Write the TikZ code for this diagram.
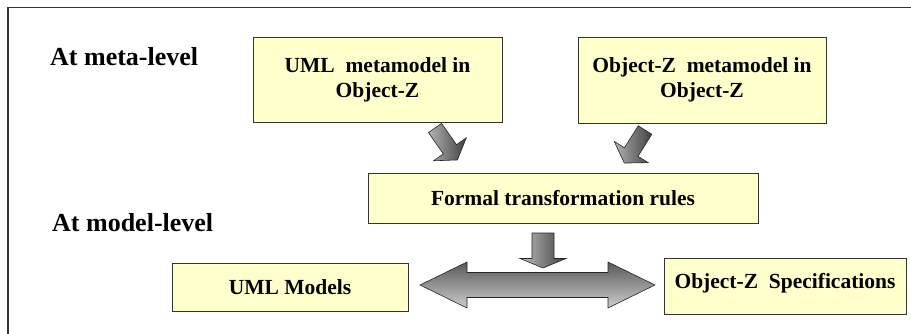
\documentclass[tikz,border=0pt]{standalone}
\usepackage{fontspec}
\setmainfont{Liberation Serif}
\begin{document}
\begin{tikzpicture}[x=1pt,y=-1pt,
  box/.style={draw=black!80, line width=0.9pt, fill={rgb,255:red,255;green,255;blue,204},
    inner sep=0pt, align=center, font=\fontsize{21.5}{25}\selectfont\bfseries},
  level/.style={anchor=west, inner sep=0pt, font=\fontsize{26}{30}\selectfont\bfseries},
  blockarrow/.style={draw=black!85, line width=0.6pt, line join=miter}]
\useasboundingbox (0,0) rectangle (911,333);
\fill[white] (0,0) rectangle (911,333);
% outer frame (left and top edges only)
\draw[black!80, line width=1.6pt] (8,340) -- (8,7.5) -- (920,7.5);

% level labels
\node[level] (meta) at (50,57) {At meta-level};
\node[level] (model) at (52,223) {At model-level};

% boxes
\node[box, minimum width=249, minimum height=85] (umlmeta) at (377.5,79.5)
  {UML\ \ metamodel in\\Object-Z};
\node[box, minimum width=248, minimum height=86] (ozmeta) at (702,80)
  {Object-Z\ \ metamodel in\\Object-Z};
\node[box, minimum width=390, minimum height=50] (rules) at (563,198)
  {Formal transformation rules};
\node[box, minimum width=236, minimum height=48] (umlmod) at (290,287)
  {UML Models};
\node[box, minimum width=242, minimum height=56, text height=17, text depth=12] (ozspec) at (785,286)
  {Object-Z\ \ Specifications};

% tilted arrows from the metamodels to the rules
\begin{scope}[shift={(435,128)}, rotate=-55]
  \draw[blockarrow, left color=black!30, right color=black!75]
    (0,-8) -- (26,-8) -- (26,-20) -- (39,0) -- (26,20) -- (26,8) -- (0,8) -- cycle;
\end{scope}
\begin{scope}[shift={(645,130)}, rotate=-122]
  \draw[blockarrow, left color=black!30, right color=black!75]
    (0,-8) -- (26,-8) -- (26,-20) -- (39,0) -- (26,20) -- (26,8) -- (0,8) -- cycle;
\end{scope}

% arrow from the rules down to the model level
\draw[blockarrow, left color=black!25, right color=black!75]
  (532,233) -- (554,233) -- (554,258.5) -- (566,258.5) -- (543,268)
  -- (520,258.5) -- (532,258.5) -- cycle;

% two-way arrow between the models
\draw[blockarrow, top color=black!65, bottom color=black!20]
  (420,285) -- (467,262) -- (467,272.5) -- (608,272.5) -- (608,262) -- (655,285)
  -- (608,308) -- (608,297.5) -- (467,297.5) -- (467,308) -- cycle;
\end{tikzpicture}
\end{document}
